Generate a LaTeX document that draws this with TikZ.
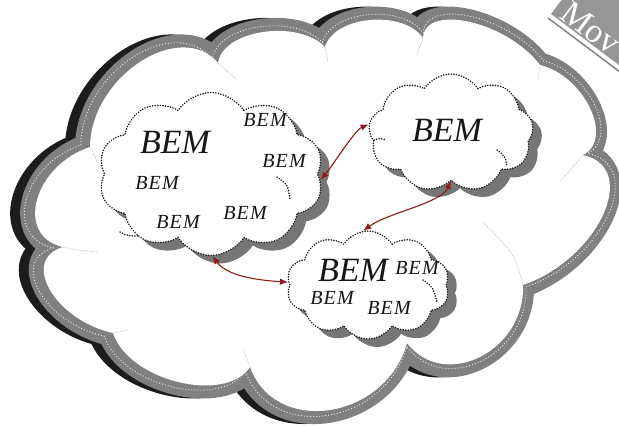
\documentclass[tikz,border=0pt]{standalone}
\usepackage{fontspec}
\setmainfont{Liberation Serif}
\newfontfamily\bemsmallfont{Liberation Serif}[LetterSpace=6]
\usetikzlibrary{shapes.symbols,shadows,arrows.meta,calc}

\definecolor{bandgray}{RGB}{128,128,128}
\definecolor{bandblack}{RGB}{28,28,28}
\definecolor{puffshadow}{RGB}{118,118,118}
\definecolor{linkred}{RGB}{140,28,28}
\definecolor{bannergray}{RGB}{150,150,150}
\definecolor{inkblack}{RGB}{22,22,22}

% one puff of the outer cloud: from #1 through the apex #2 to #3
\newcommand\cbump[3]{.. controls ($1.3333*(#2)+0.1833*(#1)-0.5167*(#3)$) and ($1.3333*(#2)+0.1833*(#3)-0.5167*(#1)$) .. (#3)}
% outline of the big surrounding cloud
\newcommand\outercloud{(90,147)
  \cbump{90,147}{140,62}{218,63}
  \cbump{218,63}{263,32}{325,47}
  \cbump{325,47}{370,20}{423,38}
  \cbump{423,38}{470,22}{540,65}
  \cbump{540,65}{590,108}{583,155}
  \cbump{583,155}{603,215}{523,285}
  \cbump{523,285}{480,357}{407,343}
  \cbump{407,343}{330,410}{250,367}
  \cbump{250,367}{178,382}{113,333}
  \cbump{113,333}{50,290}{63,247}
  \cbump{63,247}{37,200}{90,147} -- cycle}

\tikzset{
  bemcloud/.style={cloud, cloud puffs=#1, cloud puff arc=115, cloud ignores aspect,
    draw=inkblack, dash pattern=on 0.3pt off 2.3pt, line width=1.5pt, line cap=round,
    fill=white, inner sep=0pt,
    drop shadow={shadow xshift=9pt, shadow yshift=-8pt, fill=puffshadow, opacity=1}},
  bigbem/.style={font=\fontsize{34}{34}\selectfont\itshape, text=inkblack, inner sep=0pt},
  smallbem/.style={font=\bemsmallfont\fontsize{20}{20}\selectfont\itshape, text=inkblack, inner sep=0pt},
  link/.style={{Latex[length=8pt,width=6.5pt]}-{Latex[length=8pt,width=6.5pt]}, linkred, line width=1.1pt},
  seam/.style={black!22, dash pattern=on 0.8pt off 1.6pt, line width=0.8pt, line cap=round},
  innerseam/.style={inkblack, dash pattern=on 0.3pt off 2.3pt, line width=1.5pt, line cap=round},
}

\begin{document}
\begin{tikzpicture}[x=1pt, y=-1pt]
\useasboundingbox (0,0) rectangle (619,426);

% shadow bands of the big cloud
\begin{scope}[xshift=-12pt]
  \fill[bandblack] \outercloud;
  \draw[bandblack, line width=26pt] \outercloud;
\end{scope}
\begin{scope}[xshift=-2pt]
  \fill[bandgray] \outercloud;
  \draw[bandgray, line width=26pt] \outercloud;
\end{scope}
\fill[white] \outercloud;
% light stitching running inside the grey band
\begin{scope}[xshift=-3pt, shift={(310,215)}, scale=1.028, shift={(-310,-215)}]
  \draw[white!85!gray, dash pattern=on 1pt off 2pt, line width=0.9pt] \outercloud;
\end{scope}

% faint seams where the outer puffs meet
\draw[seam] (90,147) -- (98,163);
\draw[seam] (63,247) .. controls (75,250) .. (97,252);
\draw[seam] (113,333) -- (128,330);
\draw[seam] (218,63) -- (236,79);
\draw[seam] (325,47) -- (328,62);
\draw[seam] (423,38) -- (417,55);
\draw[seam] (540,65) -- (538,80);
\draw[seam] (583,155) -- (560,182);
\draw[seam] (523,285) .. controls (515,255) .. (483,222);
\draw[seam] (250,367) -- (243,349);

% the three inner clouds
\node[bemcloud=10, minimum width=225pt, minimum height=163pt] (A) at (211,174) {};
\node[bemcloud=9, minimum width=165pt, minimum height=118pt] (B) at (451,133) {};
\node[bemcloud=10, minimum width=163pt, minimum height=108pt] (C) at (368,285) {};

% unfinished puff lines inside the inner clouds
\draw[innerseam] (277,177) .. controls (288,185) .. (290,200);
\draw[innerseam] (120,232) .. controls (128,236) .. (140,236);
\draw[innerseam] (497,150) .. controls (505,156) .. (507,166);
\draw[innerseam] (374,140) .. controls (380,138) .. (386,140);
\draw[innerseam] (423,280) .. controls (433,287) .. (437,302);

% labels
\node[bigbem] (a0) at (175,142) {BEM};
\node[smallbem] (a1) at (265,120) {BEM};
\node[smallbem] (a2) at (284,161) {BEM};
\node[smallbem] (a3) at (157,183) {BEM};
\node[smallbem] (a4) at (178,222) {BEM};
\node[smallbem] (a5) at (245,213) {BEM};
\node[bigbem] (b0) at (447,130) {BEM};
\node[bigbem] (c0) at (353,270) {BEM};
\node[smallbem] (c1) at (417,268) {BEM};
\node[smallbem] (c2) at (332,298) {BEM};
\node[smallbem] (c3) at (389,308) {BEM};

% links between the inner clouds
\draw[link] (A.-3) .. controls +(12,-14) and +(-14,6) .. (B.174);
\draw[link] (B.-90) .. controls +(-10,22) and +(25,-18) .. (C.95);
\draw[link] (A.-89) .. controls +(15,20) and +(-30,-2) .. (C.178);

% corner banner
\begin{scope}
  \clip (0,0) rectangle (619,426);
  \fill[bannergray] (551,14) -- (671,104) -- (710,52) -- (590,-38) -- cycle;
  \draw[bandgray, line width=1.4pt] (548,18) -- (668,108);
  \node[rotate=-37, anchor=base west, text=white, font=\fontsize{34}{34}\selectfont] (ban)
    at (556,15) {Mov};
\end{scope}
\end{tikzpicture}
\end{document}
